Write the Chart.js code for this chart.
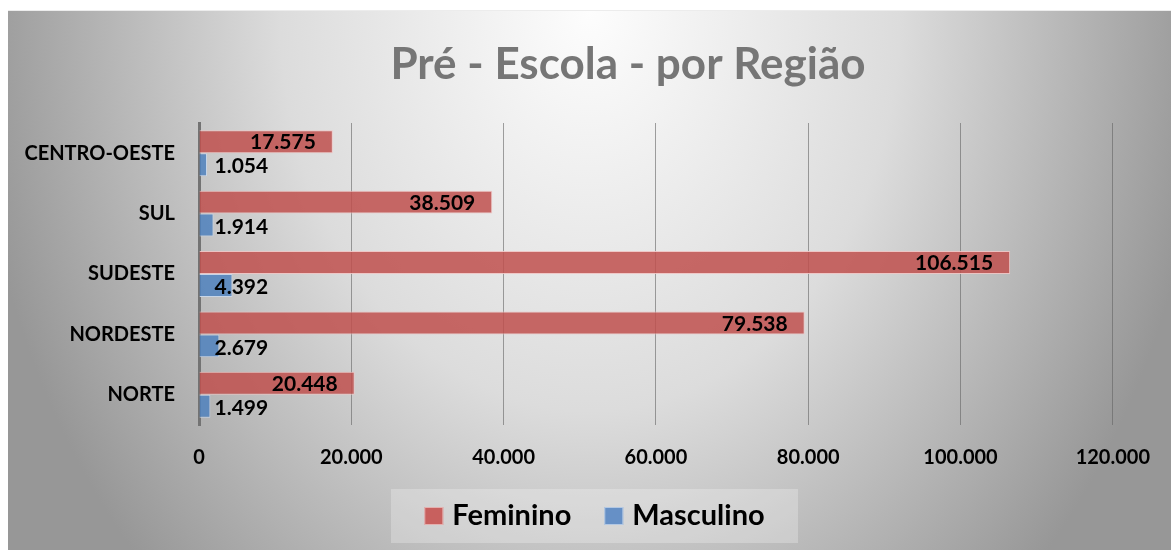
<!DOCTYPE html>
<html>
<head>
<meta charset="utf-8">
<script src="https://cdn.jsdelivr.net/npm/chart.js"></script>
<style>
    html, body { margin: 0; padding: 0; background: #fff; }
    #myChartContainer { position: relative; width: 1171px; height: 550px; }
</style>
</head>
<body>
<div id="myChartContainer">
    <canvas id="myChart" width="1171" height="550"></canvas>
</div>
<script>
// dados
const regioes = ['CENTRO-OESTE', 'SUL', 'SUDESTE', 'NORDESTE', 'NORTE'];
const feminino = [17575, 38509, 106515, 79538, 20448];
const masculino = [1054, 1914, 4392, 2679, 1499];
const titulo = 'Pré - Escola - por Região';
const eixoMin = 0;
const eixoMax = 120000;
const eixoPasso = 20000;

const FONTE = 'Lato, "Open Sans", sans-serif';

function formata(v) {
    return String(v).replace(/\B(?=(\d{3})+(?!\d))/g, '.');
}

// fundo cinza com gradiente radial
const fundo = {
    id: 'fundo',
    beforeDraw(chart) {
        const ctx = chart.ctx;
        ctx.save();
        ctx.fillStyle = '#fff';
        ctx.fillRect(0, 0, chart.width, chart.height);
        ctx.fillStyle = '#ececec';
        ctx.fillRect(8, 10, chart.width - 8, 1);
        ctx.beginPath();
        ctx.rect(8, 11, chart.width - 8, chart.height - 11);
        ctx.clip();
        ctx.translate(590, 11);
        ctx.scale(1, 800 / 620);
        const g = ctx.createRadialGradient(0, 0, 0, 0, 0, 620);
        g.addColorStop(0, '#fdfdfd');
        g.addColorStop(0.5, '#dcdcdc');
        g.addColorStop(1, '#979797');
        ctx.fillStyle = g;
        ctx.fillRect(-700, -20, 1400, 600);
        ctx.restore();
    }
};

// rotulos de valor nas barras
const rotulos = {
    id: 'rotulos',
    afterDatasetsDraw(chart) {
        const ctx = chart.ctx;
        ctx.save();
        ctx.font = 'bold 21px ' + FONTE;
        ctx.fillStyle = '#000';
        ctx.textBaseline = 'middle';
        chart.data.datasets.forEach((ds, di) => {
            const meta = chart.getDatasetMeta(di);
            meta.data.forEach((bar, i) => {
                const txt = formata(ds.data[i]);
                if (di === 0) {
                    ctx.textAlign = 'right';
                    ctx.fillText(txt, bar.x - 17, bar.y + 1);
                } else {
                    ctx.textAlign = 'left';
                    ctx.fillText(txt, bar.base + 15, bar.y + 2);
                }
            });
        });
        ctx.restore();
    }
};

// titulo e legenda
const tituloLegenda = {
    id: 'tituloLegenda',
    afterDraw(chart) {
        const ctx = chart.ctx;
        ctx.save();
        ctx.font = 'bold 44px ' + FONTE;
        ctx.fillStyle = '#767676';
        ctx.textAlign = 'center';
        ctx.textBaseline = 'alphabetic';
        ctx.fillText(titulo, 628, 79);

        // caixa da legenda
        ctx.fillStyle = 'rgba(255,255,255,0.25)';
        ctx.fillRect(391, 489, 407, 54);

        ctx.font = 'bold 29px ' + FONTE;
        ctx.textAlign = 'left';
        const itens = chart.data.datasets.map(ds => ({
            label: ds.label, cor: ds.legendColor, w: ctx.measureText(ds.label).width
        }));
        const caixa = 19, gap = 9, entre = 33;
        let total = 0;
        itens.forEach((it, i) => { total += caixa + gap + it.w + (i ? entre : 0); });
        let x = 594.5 - total / 2;
        itens.forEach(it => {
            ctx.fillStyle = it.cor;
            ctx.fillRect(x, 507, caixa, 18);
            ctx.strokeStyle = 'rgba(255,255,255,0.5)';
            ctx.lineWidth = 1;
            ctx.strokeRect(x + 0.5, 507.5, caixa - 1, 17);
            ctx.fillStyle = '#000';
            ctx.fillText(it.label, x + caixa + gap, 525);
            x += caixa + gap + it.w + entre;
        });
        ctx.restore();
    }
};

const ctx = document.getElementById('myChart');
new Chart(ctx, {
    type: 'bar',
    data: {
        labels: regioes,
        datasets: [{
            label: 'Feminino',
            data: feminino,
            backgroundColor: 'rgba(192,80,77,0.85)',
            borderColor: 'rgba(240,196,195,0.9)',
            borderWidth: 1,
            legendColor: '#c8605e'
        }, {
            label: 'Masculino',
            data: masculino,
            backgroundColor: 'rgba(79,129,189,0.85)',
            borderColor: 'rgba(200,215,235,0.9)',
            borderWidth: 1,
            legendColor: '#6690c6'
        }]
    },
    options: {
        indexAxis: 'y',
        responsive: false,
        animation: false,
        devicePixelRatio: 1,
        categoryPercentage: 0.76,
        barPercentage: 1,
        layout: { padding: { top: 123, right: 57, bottom: 0, left: 0 } },
        plugins: {
            legend: { display: false },
            title: { display: false },
            tooltip: { enabled: false }
        },
        scales: {
            x: {
                min: eixoMin,
                max: eixoMax,
                ticks: {
                    stepSize: eixoPasso,
                    padding: 21,
                    color: '#000',
                    font: { family: FONTE, size: 20, weight: 'bold' },
                    callback: v => formata(v)
                },
                grid: { color: 'rgba(100,100,100,0.6)', lineWidth: 1, drawTicks: false },
                border: { display: false },
                afterFit(scale) { scale.height = 125; }
            },
            y: {
                ticks: {
                    padding: 24,
                    color: '#000',
                    font: { family: FONTE, size: 20, weight: 'bold' }
                },
                grid: { display: false, drawTicks: false },
                border: { display: true, color: '#737373', width: 3 },
                afterFit(scale) { scale.width = 199; }
            }
        }
    },
    plugins: [fundo, rotulos, tituloLegenda]
});
</script>
</body>
</html>
